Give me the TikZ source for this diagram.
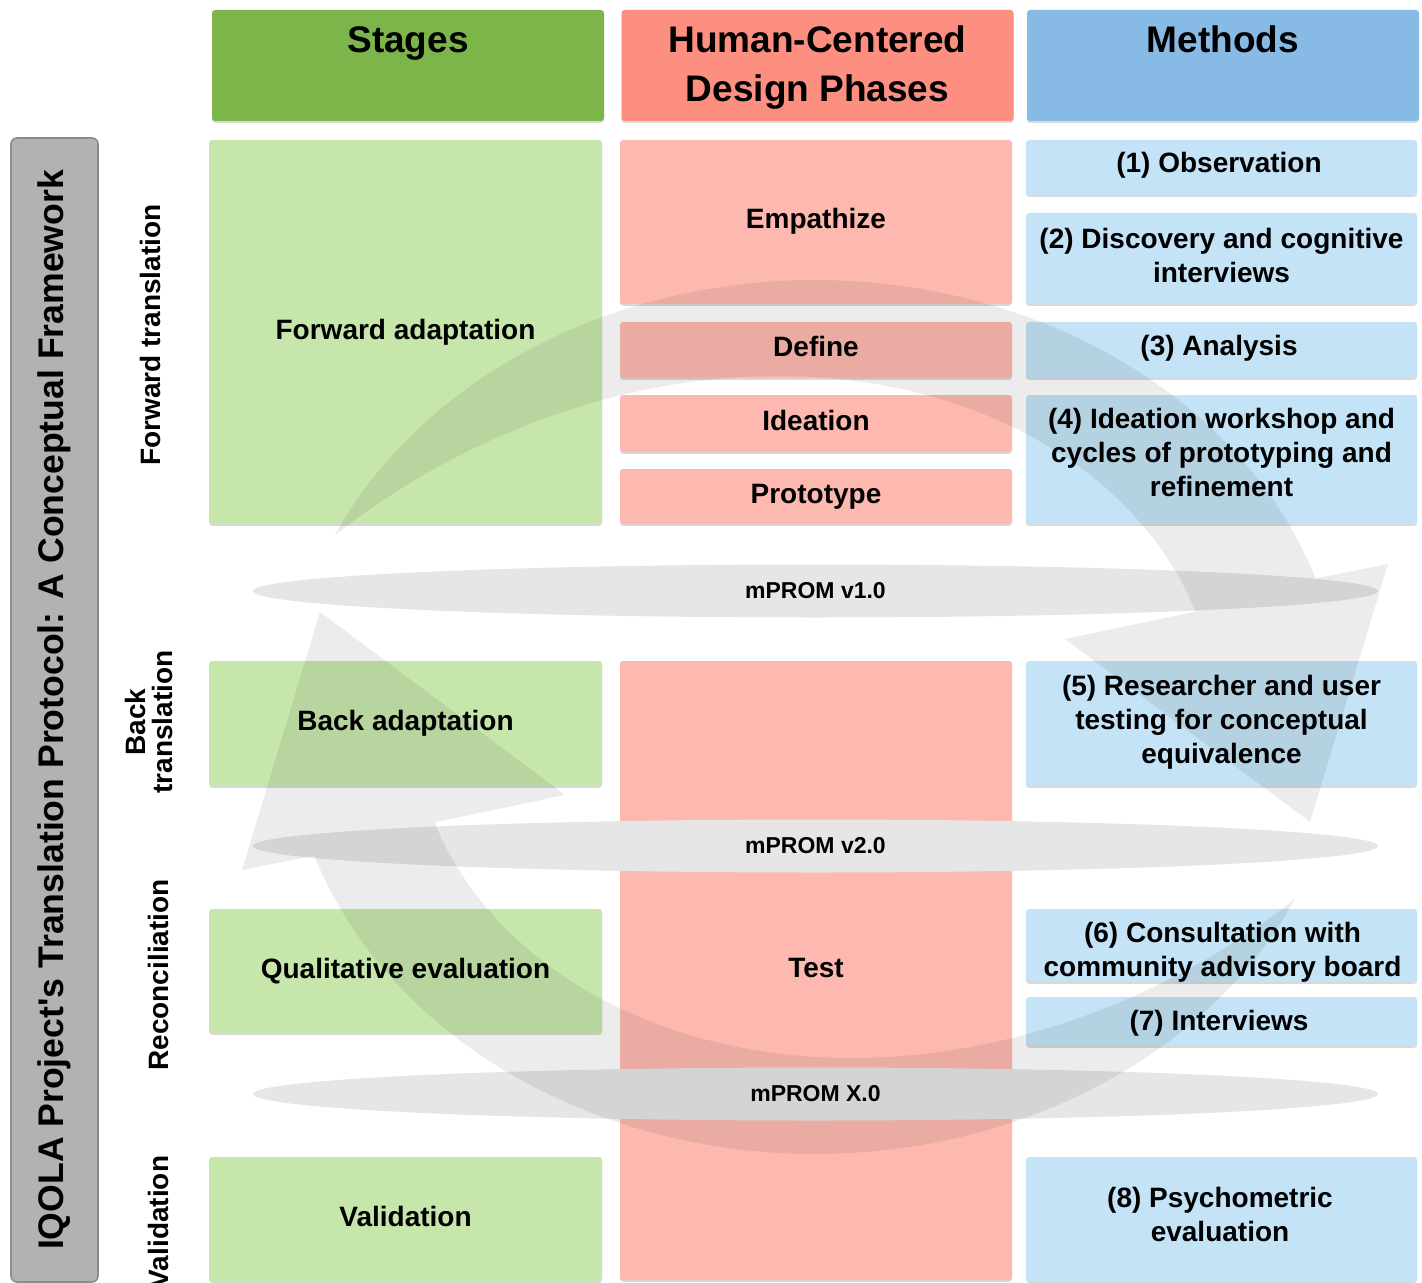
\documentclass[tikz,border=0pt]{standalone}
\usepackage{fontspec}
\setmainfont{Liberation Sans}
\usetikzlibrary{shapes.geometric,shadows}
\definecolor{hdgreen}{RGB}{124,182,74}
\definecolor{hdred}{RGB}{252,143,128}
\definecolor{hdblue}{RGB}{135,187,229}
\definecolor{lgreen}{RGB}{199,230,172}
\definecolor{lred}{RGB}{253,185,176}
\definecolor{lblue}{RGB}{196,227,246}
\definecolor{barg}{RGB}{178,178,178}
\definecolor{barb}{RGB}{140,140,140}
\definecolor{ellg}{RGB}{230,230,230}
\begin{document}
\begin{tikzpicture}[x=0.5pt,y=-0.5pt,
  box/.style={rectangle, rounded corners=1.5pt, inner sep=0pt, align=center,
    font=\bfseries\fontsize{14}{17}\selectfont,
    drop shadow={shadow xshift=0pt, shadow yshift=-0.9pt, opacity=0.3}},
  oneln/.style={text height=10.5pt, text depth=3.5pt},
  mtext/.style={align=center, inner sep=0pt, font=\bfseries\fontsize{14}{17}\selectfont},
  gbox/.style={box, fill=lgreen, minimum width=196.5pt},
  rbox/.style={box, fill=lred, minimum width=196pt},
  bbox/.style={box, fill=lblue, minimum width=195.5pt},
  hbox/.style={box, minimum width=196pt, minimum height=55.5pt},
  htext/.style={align=center, font=\bfseries\fontsize{18.5}{24.5}\selectfont, inner sep=0pt},
  side/.style={rotate=90, align=center, font=\bfseries\fontsize{14}{13.5}\selectfont, inner sep=0pt},
  mprom/.style={ellipse, fill=ellg, minimum width=562.5pt, minimum height=26.5pt,
    inner sep=0pt, font=\bfseries\fontsize{11.5}{13}\selectfont},
  arcfill/.style={fill=black, fill opacity=0.075},
  declare function={kk(\t)=0.76+0.24*((\t-18.5)/136.9)*((\t-18.5)/136.9)*((\t-18.5)/136.9)*((\t-18.5)/136.9);}
]
\useasboundingbox (0,0) rectangle (1422,1283);

% left bar and title
\node[rectangle, rounded corners=3pt, fill=barg, draw=barb, line width=0.8pt,
  minimum width=43.5pt, minimum height=572pt, inner sep=0pt] (bar) at (54.5,710) {};
\node[rotate=90, font=\bfseries\fontsize{17.8}{21}\selectfont, inner sep=0pt] (title) at (54,710)
  {IQOLA Project\textquotesingle s Translation Protocol: A Conceptual Framework};

% headers
\node[hbox, fill=hdgreen] (hst) at (408,65.5) {};
\node[hbox, fill=hdred] (hhcd) at (817.5,65.5) {};
\node[hbox, fill=hdblue] (hme) at (1223,65.5) {};
\node[htext, text height=13.9pt, text depth=4.6pt] (tst) at (408,43) {Stages};
\node[htext] (thcd) at (817.5,67.5) {Human-Centered\\Design Phases};
\node[htext, text height=13.9pt, text depth=4.6pt] (tme) at (1223,43) {Methods};

% side labels
\node[side] (lft) at (150,335) {Forward translation};
\node[side] (lbk) at (149,722) {Back\\translation};
\node[side] (lrc) at (158,975) {Reconciliation};
\node[side] (lvl) at (158,1222) {Validation};

% boxes
\node[gbox, oneln, minimum height=192pt] (fwd) at (405.5,332) {Forward adaptation};
\node[rbox, oneln, minimum height=82pt] (emp) at (816,222) {Empathize};
\node[rbox, oneln, minimum height=28pt] (def) at (816,350) {Define};
\node[rbox, oneln, minimum height=28.5pt] (ide) at (816,423.5) {Ideation};
\node[rbox, oneln, minimum height=27.5pt] (pro) at (816,496.5) {Prototype};
\node[gbox, oneln, minimum height=62.5pt] (back) at (405.5,723.5) {Back adaptation};
\node[rbox, oneln, minimum height=309.5pt] (test) at (816,970.5) {Test};
\node[gbox, oneln, minimum height=62pt] (qual) at (405.5,971) {Qualitative evaluation};
\node[gbox, oneln, minimum height=62pt] (val) at (405.5,1219) {Validation};

\node[bbox, minimum height=27.5pt] (m1) at (1221.5,167.5) {};
\node[bbox, minimum height=45.5pt] (m2) at (1221.5,258.5) {};
\node[bbox, minimum height=28pt] (m3) at (1221.5,350) {};
\node[bbox, minimum height=64.5pt] (m4) at (1221.5,459.5) {};
\node[bbox, minimum height=62.5pt] (m5) at (1221.5,723.5) {};
\node[bbox, minimum height=36.5pt] (m6) at (1221.5,945.5) {};
\node[bbox, minimum height=24.5pt] (m7) at (1221.5,1021.5) {};
\node[bbox, minimum height=62pt] (m8) at (1221.5,1219) {};

\node[mtext] (m1t) at (1219,165) {(1) Observation};
\node[mtext] (m2t) at (1221.5,255) {(2) Discovery and cognitive\\interviews};
\node[mtext] (m3t) at (1219,348) {(3) Analysis};
\node[mtext] (m4t) at (1221.5,452.5) {(4) Ideation workshop and\\cycles of prototyping and\\refinement};
\node[mtext] (m5t) at (1221.5,722) {(5) Researcher and user\\testing for conceptual\\equivalence};
\node[mtext] (m6t) at (1222.5,952) {(6) Consultation with\\community advisory board};
\node[mtext] (m7t) at (1219,1023) {(7) Interviews};
\node[mtext] (m8t) at (1220,1214) {(8) Psychometric\\evaluation};

% mPROM ellipses
\node[mprom] (v1) at (815.5,591) {mPROM v1.0};
\node[mprom] (v2) at (815.5,846) {mPROM v2.0};
\node[mprom] (vx) at (815.5,1094) {mPROM X.0};

% circular arrows
\fill[arcfill] plot[domain=155.4:18.5, samples=90, variable=\t] ({815+528*cos(\t)},{717-437*sin(\t)})
  -- (1388,564) -- (1310,822) -- (1065,639)
  -- plot[domain=18.5:155.4, samples=90, variable=\t] ({815+kk(\t)*528*cos(\t)},{717-kk(\t)*437*sin(\t)})
  -- cycle;
\fill[arcfill] plot[domain=155.4:18.5, samples=90, variable=\t] ({815-528*cos(\t)},{717+437*sin(\t)})
  -- (242,870) -- (320,612) -- (565,795)
  -- plot[domain=18.5:155.4, samples=90, variable=\t] ({815-kk(\t)*528*cos(\t)},{717+kk(\t)*437*sin(\t)})
  -- cycle;
\end{tikzpicture}
\end{document}
